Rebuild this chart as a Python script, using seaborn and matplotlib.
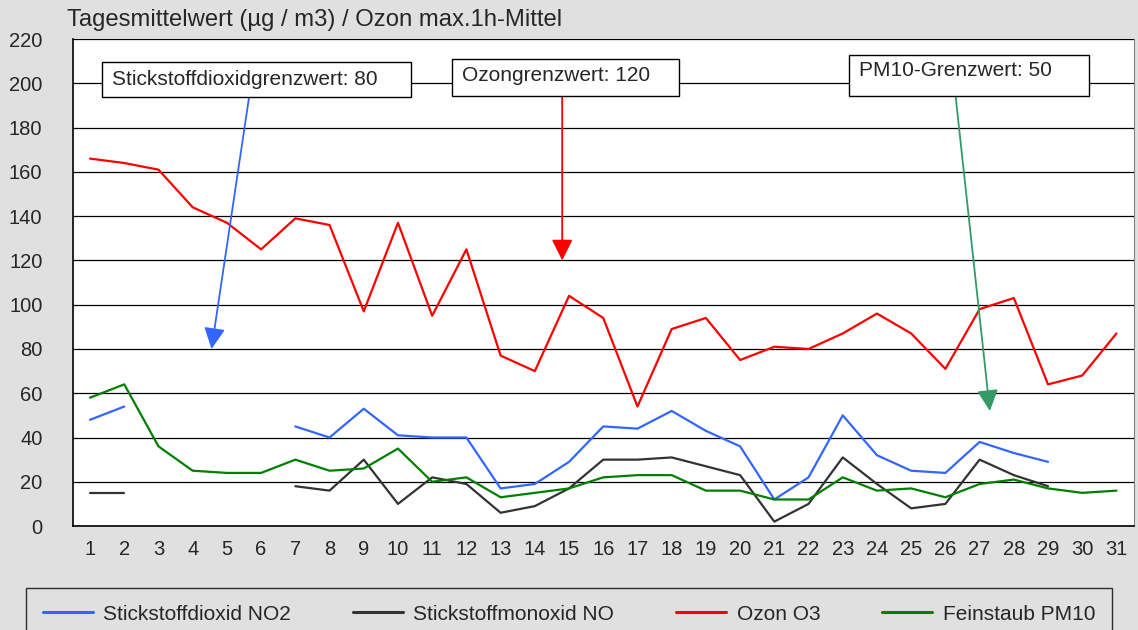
import numpy as np
import pandas as pd
import matplotlib.pyplot as plt
from matplotlib.patches import Rectangle
import seaborn as sns

# Daily values, day 1..31 (NaN = no measurement)
days = list(range(1, 32))
no2 = [48, 54, np.nan, np.nan, np.nan, np.nan, 45, 40, 53, 41, 40, 40, 17, 19, 29, 45,
       44, 52, 43, 36, 12, 22, 50, 32, 25, 24, 38, 33, 29, np.nan, np.nan]
no = [15, 15, np.nan, np.nan, np.nan, np.nan, 18, 16, 30, 10, 22, 19, 6, 9, 17, 30,
      30, 31, 27, 23, 2, 10, 31, 19, 8, 10, 30, 23, 18, np.nan, np.nan]
o3 = [166, 164, 161, 144, 137, 125, 139, 136, 97, 137, 95, 125, 77, 70, 104, 94,
      54, 89, 94, 75, 81, 80, 87, 96, 87, 71, 98, 103, 64, 68, 87]
pm10 = [58, 64, 36, 25, 24, 24, 30, 25, 26, 35, 20, 22, 13, 15, 17, 22,
        23, 23, 16, 16, 12, 12, 22, 16, 17, 13, 19, 21, 17, 15, 16]

series_names = ["Stickstoffdioxid NO2", "Stickstoffmonoxid NO", "Ozon O3", "Feinstaub PM10"]
colors = ["#3366ff", "#333333", "#ff0000", "#008000"]

frames = []
for name, vals in zip(series_names, [no2, no, o3, pm10]):
    d = pd.DataFrame({"Tag": days, "Wert": vals, "Reihe": name})
    d["Segment"] = d["Wert"].isna().cumsum()
    frames.append(d.dropna())
df = pd.concat(frames)

sns.set_style("white")
plt.rcParams["font.family"] = ["Liberation Sans", "DejaVu Sans"]

fig = plt.figure(figsize=(11.38, 6.3), dpi=100, facecolor="#e0e0e0")
ax = fig.add_axes([0.0641, 0.165, 0.932, 0.773])
ax.set_facecolor("white")

sns.lineplot(data=df, x="Tag", y="Wert", hue="Reihe", units="Segment", estimator=None,
             hue_order=series_names, palette=colors, linewidth=1.6, ax=ax, legend=False)

ax.set_xlim(0.5, 31.5)
ax.set_ylim(0, 220)
ax.set_yticks(range(0, 221, 20))
ax.set_xticks(days)
ax.set_xticklabels([str(d) for d in days])
ax.set_xticks(np.arange(0.5, 32, 1), minor=True)
ax.tick_params(axis="x", which="major", length=0, labelsize=14.5, pad=10)
ax.tick_params(axis="x", which="minor", length=5, color="black", direction="out")
ax.tick_params(axis="y", length=6, color="black", direction="out", labelsize=14.5, pad=16)
ax.grid(axis="y", color="black", linewidth=0.9)
ax.set_axisbelow(True)
ax.set_xlabel("")
ax.set_ylabel("")
for side in ["left", "bottom"]:
    ax.spines[side].set_color("black")
    ax.spines[side].set_linewidth(1.2)
ax.spines["top"].set_visible(False)
ax.spines["right"].set_color("#808080")

fig.text(0.059, 0.968, "Tagesmittelwert (µg / m3) / Ozon max.1h-Mittel", fontsize=17.2,
         va="center", ha="left")

# Limit value annotations: label, box (x0, x1, y0, y1), text pos, arrow start/end, colour
boxes = [
    ("Stickstoffdioxidgrenzwert: 80", (1.35, 10.39, 193.8, 209.6), (1.64, 201.7),
     (5.65, 194), (4.55, 80), "#3366ff"),
    ("Ozongrenzwert: 120", (11.58, 18.22, 194.2, 210.9), (11.88, 203.5),
     (14.8, 194), (14.8, 120), "#ff0000"),
    ("PM10-Grenzwert: 50", (23.19, 30.21, 194.2, 212.7), (23.48, 206),
     (26.3, 194), (27.3, 52), "#339966"),
]
for label, (bx0, bx1, by0, by1), (tx, ty), start, end, c in boxes:
    ax.annotate("", xy=end, xytext=start,
                arrowprops=dict(arrowstyle="-|>", color=c, lw=1.3, mutation_scale=32,
                                shrinkA=0, shrinkB=0))
    ax.add_patch(Rectangle((bx0, by0), bx1 - bx0, by1 - by0, facecolor="white",
                           edgecolor="black", linewidth=1, zorder=4))
    ax.text(tx, ty, label, fontsize=15, va="center", ha="left", zorder=5)

handles = [plt.Line2D([], [], color=c, linewidth=2.2) for c in colors]
fig.legend(handles, series_names, loc="upper left", ncol=4, mode="expand",
           bbox_to_anchor=(0.023, 0.0667, 0.954, 0), frameon=True, fancybox=False,
           facecolor="#e0e0e0", edgecolor="black", fontsize=15, handlelength=2.4,
           handletextpad=0.5, borderaxespad=0, borderpad=0.8)
fig.legends[0].get_frame().set_linewidth(1.0)

plt.savefig("out.png", dpi=100, facecolor=fig.get_facecolor())
